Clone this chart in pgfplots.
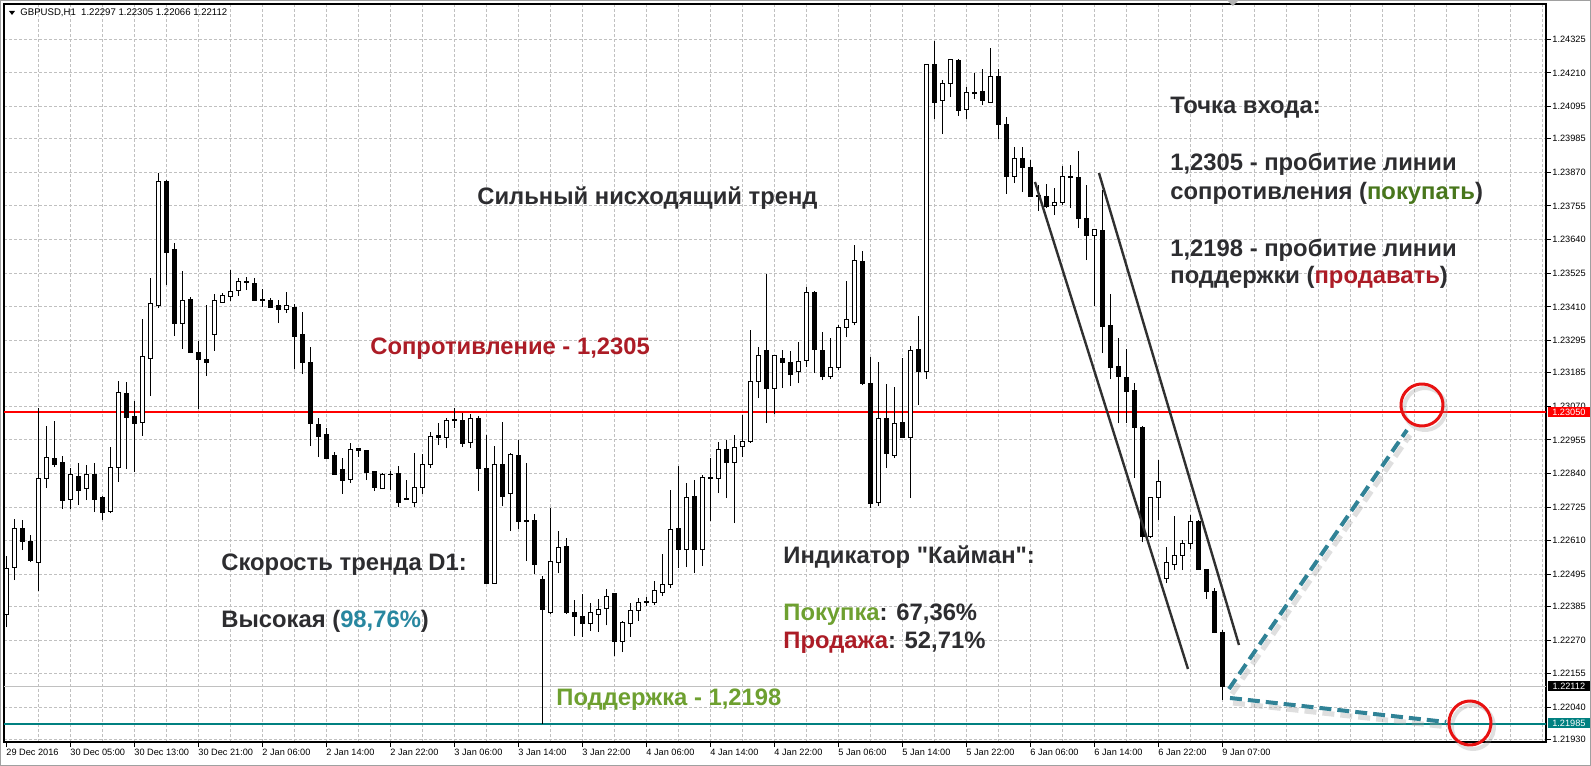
\documentclass[border=0pt]{standalone}
\usepackage{fontspec}
\setmainfont{Liberation Sans}[Ligatures=TeXOff]
\usepackage{pgfplots}
\pgfplotsset{compat=1.18}
\usepackage{pgfplotstable}

\definecolor{gridgray}{RGB}{192,192,192}
\definecolor{framegray}{RGB}{160,160,160}
\definecolor{txtdark}{RGB}{45,45,48}
\definecolor{resred}{RGB}{172,28,38}
\definecolor{supgreen}{RGB}{110,160,48}
\definecolor{buygreen}{RGB}{72,118,28}
\definecolor{speedteal}{RGB}{40,135,160}
\definecolor{lineteal}{RGB}{0,128,128}
\definecolor{arrowteal}{RGB}{48,130,150}
\definecolor{circred}{RGB}{232,18,18}
\definecolor{chanline}{RGB}{48,48,48}

\pgfdeclareplotmark{void}{}
\newcommand\ann{\fontsize{11.9bp}{14bp}\selectfont\bfseries}
\newcommand\ticksize{\fontsize{4.6bp}{5.5bp}\selectfont}

% GBPUSD H1 candles: index, open, high, low, close
\pgfplotstableread{
k o h l c
0 1.22359 1.22558 1.22315 1.22516
1 1.22520 1.22684 1.22475 1.22653
2 1.22653 1.22681 1.22578 1.22609
3 1.22609 1.22630 1.22537 1.22544
4 1.22537 1.23064 1.22438 1.22824
5 1.22824 1.23002 1.22790 1.22896
6 1.22893 1.23019 1.22862 1.22872
7 1.22879 1.22900 1.22718 1.22749
8 1.22752 1.22858 1.22718 1.22835
9 1.22831 1.22875 1.22732 1.22783
10 1.22790 1.22869 1.22749 1.22838
11 1.22838 1.22875 1.22708 1.22752
12 1.22759 1.22763 1.22681 1.22708
13 1.22711 1.22930 1.22704 1.22862
14 1.22862 1.23156 1.22811 1.23118
15 1.23115 1.23153 1.22855 1.23033
16 1.23036 1.23088 1.22845 1.23012
17 1.23016 1.23368 1.22968 1.23241
18 1.23235 1.23508 1.23105 1.23423
19 1.23416 1.23867 1.23406 1.23840
20 1.23840 1.23845 1.23484 1.23597
21 1.23607 1.23628 1.23310 1.23354
22 1.23354 1.23532 1.23265 1.23433
23 1.23436 1.23443 1.23252 1.23255
24 1.23255 1.23293 1.23060 1.23231
25 1.23231 1.23416 1.23173 1.23221
26 1.23317 1.23454 1.23259 1.23430
27 1.23426 1.23457 1.23423 1.23450
28 1.23447 1.23536 1.23430 1.23464
29 1.23467 1.23508 1.23447 1.23498
30 1.23497 1.23512 1.23467 1.23494
31 1.23491 1.23508 1.23430 1.23430
32 1.23436 1.23471 1.23409 1.23430
33 1.23430 1.23440 1.23406 1.23409
34 1.23416 1.23433 1.23354 1.23402
35 1.23402 1.23460 1.23389 1.23413
36 1.23409 1.23419 1.23197 1.23310
37 1.23317 1.23392 1.23180 1.23218
38 1.23221 1.23272 1.22934 1.23012
39 1.23009 1.23029 1.22896 1.22968
40 1.22975 1.22995 1.22890 1.22893
41 1.22900 1.22913 1.22835 1.22838
42 1.22855 1.22893 1.22770 1.22817
43 1.22821 1.22944 1.22807 1.22923
44 1.22925 1.22925 1.22896 1.22920
45 1.22920 1.22922 1.22817 1.22845
46 1.22848 1.22850 1.22780 1.22793
47 1.22790 1.22841 1.22787 1.22838
48 1.22838 1.22848 1.22783 1.22836
49 1.22841 1.22865 1.22725 1.22742
50 1.22754 1.22817 1.22752 1.22752
51 1.22742 1.22910 1.22725 1.22793
52 1.22793 1.22906 1.22770 1.22872
53 1.22872 1.22982 1.22858 1.22968
54 1.22971 1.23012 1.22937 1.22964
55 1.22964 1.23029 1.22927 1.23023
56 1.23025 1.23064 1.22995 1.23020
57 1.23023 1.23047 1.22930 1.22944
58 1.22947 1.23043 1.22927 1.23029
59 1.23029 1.23036 1.22780 1.22858
60 1.22858 1.22971 1.22462 1.22465
61 1.22465 1.22934 1.22462 1.22872
62 1.22872 1.23016 1.22728 1.22763
63 1.22770 1.22910 1.22643 1.22906
64 1.22903 1.22954 1.22650 1.22677
65 1.22681 1.22875 1.22540 1.22677
66 1.22681 1.22701 1.22496 1.22530
67 1.22479 1.22489 1.21985 1.22376
68 1.22366 1.22722 1.22359 1.22540
69 1.22537 1.22643 1.22499 1.22588
70 1.22592 1.22619 1.22359 1.22366
71 1.22366 1.22407 1.22284 1.22352
72 1.22352 1.22428 1.22281 1.22328
73 1.22328 1.22397 1.22301 1.22366
74 1.22359 1.22410 1.22298 1.22376
75 1.22380 1.22445 1.22321 1.22421
76 1.22428 1.22430 1.22215 1.22267
77 1.22267 1.22335 1.22229 1.22332
78 1.22328 1.22397 1.22281 1.22373
79 1.22373 1.22414 1.22335 1.22400
80 1.22400 1.22417 1.22386 1.22402
81 1.22400 1.22472 1.22390 1.22441
82 1.22434 1.22564 1.22421 1.22462
83 1.22462 1.22783 1.22448 1.22650
84 1.22653 1.22865 1.22516 1.22581
85 1.22581 1.22807 1.22520 1.22759
86 1.22763 1.22817 1.22499 1.22581
87 1.22581 1.22835 1.22523 1.22828
88 1.22828 1.22893 1.22677 1.22824
89 1.22824 1.22947 1.22773 1.22923
90 1.22923 1.22954 1.22756 1.22879
91 1.22879 1.22971 1.22670 1.22930
92 1.22934 1.23040 1.22896 1.22951
93 1.22951 1.23330 1.22945 1.23153
94 1.23156 1.23272 1.23098 1.23245
95 1.23259 1.23522 1.23012 1.23132
96 1.23132 1.23245 1.23043 1.23245
97 1.23235 1.23262 1.23132 1.23218
98 1.23218 1.23259 1.23139 1.23177
99 1.23190 1.23289 1.23149 1.23224
100 1.23228 1.23478 1.23204 1.23460
101 1.23460 1.23464 1.23183 1.23265
102 1.23259 1.23324 1.23159 1.23173
103 1.23173 1.23303 1.23163 1.23204
104 1.23204 1.23347 1.23194 1.23341
105 1.23341 1.23498 1.23306 1.23365
106 1.23358 1.23621 1.23347 1.23570
107 1.23566 1.23601 1.23142 1.23149
108 1.23149 1.23238 1.22722 1.22739
109 1.22742 1.23221 1.22728 1.23029
110 1.23029 1.23146 1.22858 1.22910
111 1.22900 1.23135 1.22893 1.23012
112 1.23016 1.23235 1.22961 1.22964
113 1.22964 1.23276 1.22756 1.23259
114 1.23265 1.23378 1.23074 1.23190
115 1.23190 1.24240 1.23163 1.24240
116 1.24240 1.24319 1.24052 1.24110
117 1.24114 1.24186 1.24001 1.24175
118 1.24175 1.24257 1.24127 1.24257
119 1.24254 1.24257 1.24062 1.24083
120 1.24086 1.24161 1.24052 1.24144
121 1.24144 1.24209 1.24120 1.24141
122 1.24148 1.24223 1.24100 1.24114
123 1.24110 1.24295 1.24107 1.24199
124 1.24199 1.24223 1.23984 1.24032
125 1.24032 1.24059 1.23796 1.23857
126 1.23857 1.23956 1.23833 1.23919
127 1.23919 1.23956 1.23802 1.23886
128 1.23886 1.23912 1.23785 1.23789
129 1.23792 1.23826 1.23737 1.23789
130 1.23789 1.23830 1.23748 1.23754
131 1.23758 1.23816 1.23724 1.23768
132 1.23768 1.23891 1.23758 1.23857
133 1.23857 1.23895 1.23748 1.23854
134 1.23852 1.23943 1.23681 1.23713
135 1.23713 1.23826 1.23570 1.23655
136 1.23655 1.23676 1.23413 1.23676
137 1.23672 1.23809 1.23252 1.23344
138 1.23347 1.23454 1.23163 1.23204
139 1.23207 1.23305 1.23012 1.23173
140 1.23170 1.23265 1.23012 1.23122
141 1.23125 1.23149 1.22826 1.22999
142 1.22999 1.23002 1.22605 1.22626
143 1.22626 1.22759 1.22620 1.22759
144 1.22759 1.22886 1.22681 1.22811
145 1.22482 1.22588 1.22465 1.22534
146 1.22530 1.22695 1.22510 1.22558
147 1.22558 1.22612 1.22510 1.22602
148 1.22602 1.22698 1.22581 1.22677
149 1.22677 1.22681 1.22513 1.22513
150 1.22513 1.22513 1.22410 1.22438
151 1.22438 1.22448 1.22294 1.22297
152 1.22297 1.22305 1.22066 1.22112
}\candles

\pgfplotsset{
  candle/.style={
    scatter, only marks, mark=void,
    visualization depends on={\thisrow{o} \as \cO},
    visualization depends on={\thisrow{h} \as \cH},
    visualization depends on={\thisrow{l} \as \cL},
    visualization depends on={\thisrow{c} \as \cC},
    scatter/@pre marker code/.code={%
      \pgfscope
      \pgfplotspointaxisxy{0}{\cC}\pgfgetlastxy{\xx}{\yC}%
      \pgfplotspointaxisxy{0}{\cO}\pgfgetlastxy{\xx}{\yO}%
      \pgfplotspointaxisxy{0}{\cH}\pgfgetlastxy{\xx}{\yH}%
      \pgfplotspointaxisxy{0}{\cL}\pgfgetlastxy{\xx}{\yL}%
      \edef\dO{\the\dimexpr\yO-\yC\relax}%
      \edef\dH{\the\dimexpr\yH-\yC\relax}%
      \edef\dL{\the\dimexpr\yL-\yC\relax}%
      \pgfsetlinewidth{0.5bp}\pgfsetstrokecolor{black}%
      \pgfpathmoveto{\pgfqpoint{0pt}{\dL}}\pgfpathlineto{\pgfqpoint{0pt}{\dH}}%
      \pgfusepath{stroke}%
      \ifdim\dO>0pt \pgfsetfillcolor{black}\else\pgfsetfillcolor{white}\fi
      \pgfpathrectanglecorners{\pgfpoint{-1bp}{\dO}}{\pgfpoint{1bp}{0pt}}%
      \pgfusepath{fill,stroke}%
      \endpgfscope
    },
    scatter/@post marker code/.code={},
  },
}

\begin{document}
\begin{tikzpicture}
\path[use as bounding box] (0,0) rectangle (795.5bp,383bp);
\fill[white] (0,0) rectangle (795.5bp,383bp);
\begin{axis}[
  at={(2bp,12bp)}, anchor=south west,
  width=771bp, height=369bp, scale only axis,
  xmin=-0.25, xmax=192.5,
  ymin=1.219218, ymax=1.244457,
  axis line style={black, line width=0.6bp},
  xtick={0,8,...,152},
  xticklabels={29 Dec 2016,30 Dec 05:00,30 Dec 13:00,30 Dec 21:00,2 Jan 06:00,
    2 Jan 14:00,2 Jan 22:00,3 Jan 06:00,3 Jan 14:00,3 Jan 22:00,4 Jan 06:00,
    4 Jan 14:00,4 Jan 22:00,5 Jan 06:00,5 Jan 14:00,5 Jan 22:00,6 Jan 06:00,
    6 Jan 14:00,6 Jan 22:00,9 Jan 07:00},
  ytick={1.24325,1.24210,1.24095,1.23985,1.23870,1.23755,1.23640,1.23525,
    1.23410,1.23295,1.23185,1.23070,1.22955,1.22840,1.22725,1.22610,1.22495,
    1.22385,1.22270,1.22155,1.22040,1.21930},
  yticklabels={1.24325,1.24210,1.24095,1.23985,1.23870,1.23755,1.23640,1.23525,
    1.23410,1.23295,1.23185,1.23070,1.22955,1.22840,1.22725,1.22610,1.22495,
    1.22385,1.22270,1.22155,1.22040,1.21930},
  xtick pos=bottom, ytick pos=right, yticklabel pos=right,
  tick align=outside, major tick length=2.5bp, minor tick length=0pt,
  major tick style={black, line width=0.5bp},
  xticklabel style={font=\ticksize, anchor=north west, inner sep=0pt, xshift=0bp, yshift=-1bp},
  yticklabel style={font=\ticksize, anchor=west, inner sep=0pt, xshift=0.5bp},
  minor xtick={4,8,...,192},
  xmajorgrids=false, xminorgrids=true, ymajorgrids=true,
  major grid style={gridgray, dash pattern=on 1.5bp off 1bp, line width=0.5bp},
  minor grid style={gridgray, dash pattern=on 1.5bp off 1bp, line width=0.5bp},
]
\addplot[gridgray, line width=0.5bp] coordinates {(-0.25,1.22112) (192.5,1.22112)};
\addplot[candle] table[x=k, y=c] {\candles};
\addplot[red, line width=1bp] coordinates {(-0.25,1.23050) (192.5,1.23050)};
\addplot[lineteal, line width=1bp] coordinates {(-0.25,1.21985) (192.5,1.21985)};
\end{axis}

\begin{scope}[x=0.5bp, y=-0.5bp, shift={(0,383bp)}]
  % window frame
  \draw[framegray, line width=0.5bp] (0.5,0.5) rectangle (1590.5,765.5);
  % header
  \fill[black] (9,11) -- (15,11) -- (12,15) -- cycle;
  \node[anchor=base west, inner sep=0pt, font=\fontsize{4.8bp}{5.5bp}\selectfont]
    at (20,16) {GBPUSD,H1\ \ 1.22297 1.22305 1.22066 1.22112};
  \fill[black!30] (1227,0) -- (1239,0) -- (1233,6) -- cycle;
  % price boxes
  \node[fill=red, text=white, font=\ticksize, inner sep=0pt, minimum width=21bp,
    minimum height=5bp, anchor=west] at (1547.5,412) {1.23050};
  \node[fill=black, text=white, font=\ticksize, inner sep=0pt, minimum width=21bp,
    minimum height=5bp, anchor=west] at (1547.5,686.3) {1.22112};
  \node[fill=lineteal, text=white, font=\ticksize, inner sep=0pt, minimum width=21bp,
    minimum height=5bp, anchor=west] at (1547.5,723.4) {1.21985};
  % channel
  \draw[chanline, line width=1.2bp] (1035,182) -- (1188,669);
  \draw[chanline, line width=1.2bp] (1099,173) -- (1239,645);
  % dashed arrows with shadow
  \draw[black!35, opacity=0.35, line width=2.6bp, dash pattern=on 6bp off 3bp]
    (1232,694) -- (1410,435);
  \draw[arrowteal, line width=2bp, dash pattern=on 6bp off 3bp] (1229,689) -- (1407,430);
  \draw[black!35, opacity=0.35, line width=2.6bp, dash pattern=on 6bp off 3bp]
    (1233,703) -- (1449,727);
  \draw[arrowteal, line width=2bp, dash pattern=on 6bp off 3bp] (1230,698) -- (1446,722);
  % circles
  \draw[black!40, opacity=0.3, line width=2bp]
    (1425,409) ++(95:21) arc[start angle=95, end angle=455, x radius=21, y radius=21];
  \draw[circred, line width=1.5bp]
    (1422,405) ++(95:21) arc[start angle=95, end angle=455, x radius=21, y radius=21];
  \draw[black!40, opacity=0.3, line width=2bp]
    (1473,728) ++(80:21) arc[start angle=80, end angle=445, x radius=21, y radius=22];
  \draw[circred, line width=1.5bp]
    (1470,724) ++(80:21) arc[start angle=80, end angle=445, x radius=21, y radius=22];
  % annotations
  \begin{scope}[every node/.style={anchor=base west, inner sep=0pt, font=\ann, text=txtdark}]
    \node at (477,205) {Сильный нисходящий тренд};
    \node[text=resred] at (370,355) {Сопротивление - 1,2305};
    \node at (221,571) {Скорость тренда D1:};
    \node at (221,628) {Высокая (\textcolor{speedteal}{98,76\%})};
    \node at (783,564) {Индикатор "Кайман":};
    \node at (783,621) {\textcolor{supgreen}{Покупка}: 67,36\%};
    \node at (783,649) {\textcolor{resred}{Продажа}: 52,71\%};
    \node[text=supgreen] at (556,706) {Поддержка - 1,2198};
    \node at (1170,114) {Точка входа:};
    \node at (1170,171) {1,2305 - пробитие линии};
    \node at (1170,200) {сопротивления (\textcolor{buygreen}{покупать})};
    \node at (1170,257) {1,2198 - пробитие линии};
    \node at (1170,284) {поддержки (\textcolor{resred}{продавать})};
  \end{scope}
\end{scope}
\end{tikzpicture}
\end{document}
